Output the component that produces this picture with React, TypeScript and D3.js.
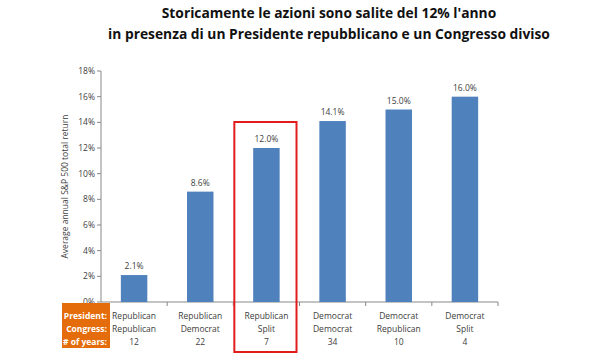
import * as d3 from "d3";

const presidents = ["Republican", "Republican", "Republican", "Democrat", "Democrat", "Democrat"];
const congresses = ["Republican", "Democrat", "Split", "Democrat", "Republican", "Split"];
const years = [12, 22, 7, 34, 10, 4];
const returns = [2.1, 8.6, 12.0, 14.1, 15.0, 16.0];
const yTicks = [0, 2, 4, 6, 8, 10, 12, 14, 16, 18];
const highlightIndex = 2;
const rowLabels = ["President:", "Congress:", "# of years:"];

const titleLines = [
  "Storicamente le azioni sono salite del 12% l'anno",
  "in presenza di un Presidente repubblicano e un Congresso diviso",
];

export default function App() {
  const width = 600;
  const height = 360;
  const margin = { left: 101, right: 102, top: 71, bottom: 58 };
  const innerW = width - margin.left - margin.right;
  const innerH = height - margin.top - margin.bottom;

  const idx = returns.map((_, i) => i);
  const x = d3.scaleBand<number>().domain(idx).range([0, innerW]).paddingInner(0.6).paddingOuter(0.3);
  const band = d3.scaleBand<number>().domain(idx).range([0, innerW]);
  const y = d3.scaleLinear().domain([0, 18]).range([innerH, 0]);

  const font = "Open Sans, sans-serif";
  const textColor = "#404040";
  const rowY = [316, 329, 342].map((v) => v - margin.top);

  return (
    <svg
      width={width}
      height={height}
      style={{ position: "absolute", left: 0, top: 0, background: "#fff" }}
      fontFamily={font}
    >
      {titleLines.map((t, i) => (
        <text
          key={i}
          x={329}
          y={18 + i * 21}
          textAnchor="middle"
          fontSize={13.8}
          fontWeight="bold"
          fill="#111"
        >
          {t}
        </text>
      ))}
      <g transform={`translate(${margin.left},${margin.top})`}>
        {/* y axis */}
        <line x1={0} x2={0} y1={0} y2={innerH} stroke="#888" />
        {yTicks.map((t) => (
          <g key={t} transform={`translate(0,${y(t)})`}>
            <line x1={-4} x2={0} stroke="#888" />
            <text x={-6} dy="0.35em" textAnchor="end" fontSize={8.5} fill={textColor}>
              {t}%
            </text>
          </g>
        ))}
        <text
          transform={`translate(${-33},${innerH / 2}) rotate(-90)`}
          textAnchor="middle"
          fontSize={8.5}
          fill={textColor}
        >
          Average annual S&amp;P 500 total return
        </text>
        {/* x axis */}
        <line x1={0} x2={innerW} y1={innerH} y2={innerH} stroke="#888" />
        {idx.map((i) => (
          <line
            key={i}
            x1={band(i)! + band.bandwidth()}
            x2={band(i)! + band.bandwidth()}
            y1={innerH}
            y2={innerH + 4}
            stroke="#888"
          />
        ))}
        {/* bars */}
        {idx.map((i) => (
          <g key={i}>
            <rect
              x={x(i)}
              y={y(returns[i])}
              width={x.bandwidth()}
              height={innerH - y(returns[i])}
              fill="#4F81BD"
            />
            <text
              x={x(i)! + x.bandwidth() / 2}
              y={y(returns[i]) - 6}
              textAnchor="middle"
              fontSize={8.5}
              fill={textColor}
            >
              {returns[i].toFixed(1)}%
            </text>
            {[presidents[i], congresses[i], String(years[i])].map((s, r) => (
              <text
                key={r}
                x={band(i)! + band.bandwidth() / 2}
                y={rowY[r]}
                dy="0.35em"
                textAnchor="middle"
                fontSize={8.5}
                fill={textColor}
              >
                {s}
              </text>
            ))}
          </g>
        ))}
        {/* highlight box */}
        <rect
          x={band(highlightIndex)! + 1}
          y={122 - margin.top}
          width={band.bandwidth() - 4}
          height={352 - 122}
          fill="none"
          stroke="#e21b1b"
          strokeWidth={2}
        />
      </g>
      {/* orange row label box */}
      <rect x={62} y={303} width={48} height={45} fill="#E46C0A" />
      {rowLabels.map((s, r) => (
        <text
          key={r}
          x={107}
          y={rowY[r] + margin.top}
          dy="0.35em"
          textAnchor="end"
          fontSize={8.5}
          fontWeight="bold"
          fill="#fff"
        >
          {s}
        </text>
      ))}
    </svg>
  );
}
